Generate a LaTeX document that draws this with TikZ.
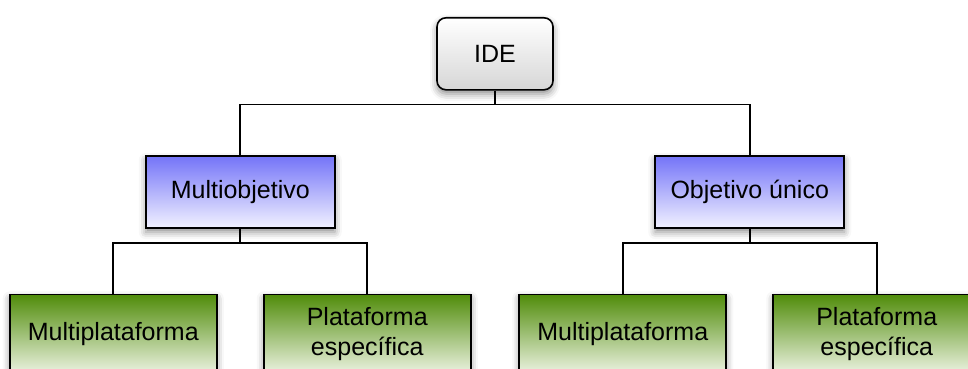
\documentclass[tikz,border=0pt]{standalone}
\usepackage{fontspec}
\setmainfont{Liberation Sans}
\usetikzlibrary{positioning,shadows,shadows.blur,trees}

\definecolor{blueTop}{RGB}{116,116,248}
\definecolor{blueBottom}{RGB}{242,242,255}
\definecolor{greenTop}{RGB}{80,140,10}
\definecolor{greenBottom}{RGB}{238,244,228}

\begin{document}
\begin{tikzpicture}[x=1pt, y=1pt,
    root/.style={rectangle, rounded corners=9pt, draw=black, line width=1.6pt,
        top color=white, bottom color=black!16, minimum width=116pt, minimum height=72pt,
        inner sep=0pt, text centered, anchor=north, font=\fontsize{25}{30}\selectfont,
        blur shadow={shadow xshift=0pt, shadow yshift=-4pt, shadow blur radius=7pt, shadow opacity=45}},
    goal/.style={rectangle, draw=black, line width=1.6pt,
        top color=blueTop, bottom color=blueBottom, minimum width=189pt, minimum height=72pt,
        inner sep=0pt, text centered, anchor=north, font=\fontsize{25}{30}\selectfont,
        blur shadow={shadow xshift=0pt, shadow yshift=-4pt, shadow blur radius=7pt, shadow opacity=45}},
    leaf/.style={rectangle, draw=black, line width=1.6pt,
        top color=greenTop, bottom color=greenBottom, minimum width=207pt, minimum height=80pt,
        inner sep=0pt, align=center, anchor=north, font=\fontsize{25}{30}\selectfont,
        blur shadow={shadow xshift=0pt, shadow yshift=-4pt, shadow blur radius=7pt, shadow opacity=45}},
    level distance=101.5pt,
    level 1/.style={sibling distance=509.5pt},
    level 2/.style={sibling distance=254pt},
    edge from parent fork down,
    edge from parent/.style={draw, line width=1.6pt}
]

\useasboundingbox (0,0) rectangle (968,-369);
\clip (0,0) rectangle (968,-369);

\node [root] (IDE) at (495,-17) {IDE}
	child{
		node [goal] (Multi) {Multiobjetivo}
		child { node [leaf] (MultiMulti) {Multiplataforma} }
		child { node [leaf] (MultiEsp) {Plataforma\\específica} }
	}
	child{
		node [goal] (Unico) {Objetivo único}
		child { node [leaf] (UnicoMulti) {Multiplataforma} }
		child { node [leaf] (UnicoEsp) {Plataforma\\específica} }
	}
;

\end{tikzpicture}
\end{document}
